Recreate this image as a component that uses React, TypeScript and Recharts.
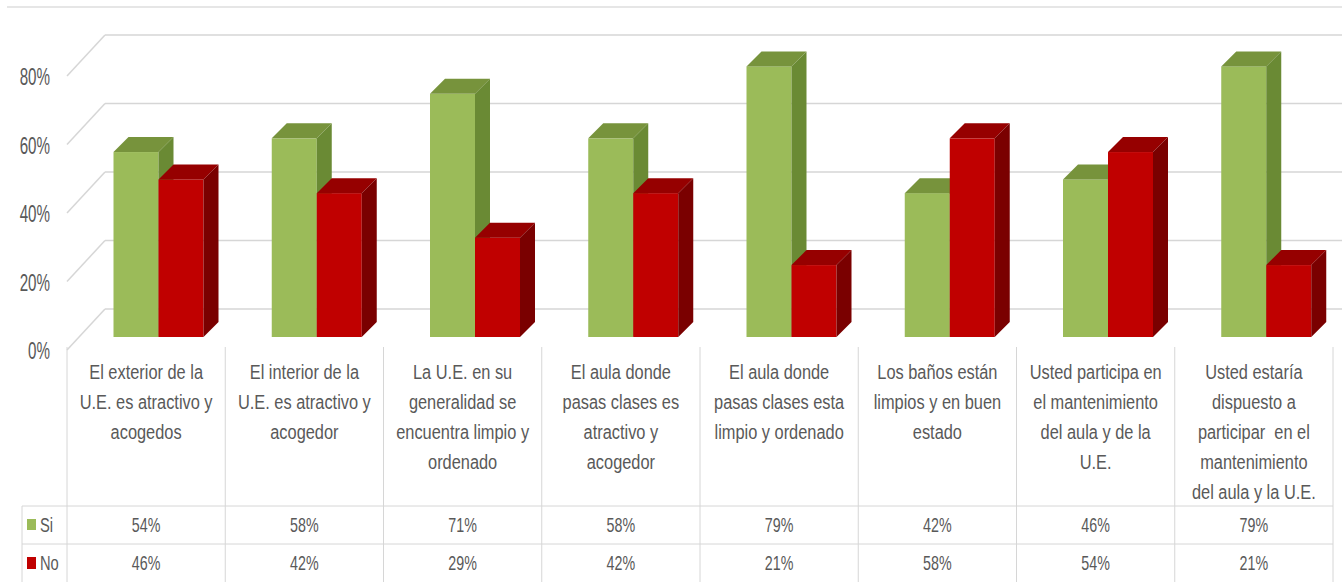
import React from "react";
import { BarChart, Bar, XAxis, YAxis, CartesianGrid } from "recharts";

const categories = [
  "El exterior de la\nU.E. es atractivo y\nacogedos",
  "El interior de la\nU.E. es atractivo y\nacogedor",
  "La U.E. en su\ngeneralidad se\nencuentra limpio y\nordenado",
  "El aula donde\npasas clases es\natractivo y\nacogedor",
  "El aula donde\npasas clases esta\nlimpio y ordenado",
  "Los baños están\nlimpios y en buen\nestado",
  "Usted participa en\nel mantenimiento\ndel aula y de la\nU.E.",
  "Usted estaría\ndispuesto a\nparticipar  en el\nmantenimiento\ndel aula y la U.E.",
];
const siValues = [54, 58, 71, 58, 79, 42, 46, 79];
const noValues = [46, 42, 29, 42, 21, 58, 54, 21];
const yTicks = [0, 20, 40, 60, 80];

const data = categories.map((name, i) => ({ name, si: siValues[i], no: noValues[i] }));

const W = 1350;
const H = 582;
const Y_AXIS_W = 79.5;
const PLOT_W = 1266;
const X_AXIS_H = 245;
const TOP = 63;
const DEPTH = 15;
const BACK_SHIFT = 28; // back wall sits this much higher than the front scale
const TEXT = "#595959";
const FONT = "'Liberation Sans', Arial, sans-serif";
const LINE = "#d6d6d6";

const colors = {
  si: { front: "#9bbb59", top: "#77933c", side: "#6a8a34" },
  no: { front: "#c00000", top: "#960000", side: "#7a0000" },
};

function make3DBar(c: { front: string; top: string; side: string }) {
  return (props: any) => {
    const { x, y, width, height } = props;
    if (!height || height <= 0) return <g />;
    const d = DEPTH;
    return (
      <g>
        <rect x={x} y={y} width={width} height={height} fill={c.front} />
        <polygon
          points={`${x},${y} ${x + d},${y - d} ${x + width + d},${y - d} ${x + width},${y}`}
          fill={c.top}
        />
        <polygon
          points={`${x + width},${y} ${x + width + d},${y - d} ${x + width + d},${y + height - d} ${x + width},${y + height}`}
          fill={c.side}
        />
      </g>
    );
  };
}

// back wall gridline plus the diagonal running to the front-left corner
function gridLine(props: any) {
  const { y1, x1, index } = props;
  const frontX = x1 - 12.5;
  const backX = x1 + 25.5;
  const backY = y1 - BACK_SHIFT;
  return (
    <g key={`g-${index}`}>
      <line x1={frontX} y1={y1 + 13} x2={backX} y2={backY} stroke={LINE} strokeWidth={1.5} />
      <line x1={backX} y1={backY} x2={1342} y2={backY} stroke={LINE} strokeWidth={1.5} />
    </g>
  );
}

function YTick(props: any) {
  const { y, payload } = props;
  return (
    <text
      transform={`translate(50, ${y + 14}) scale(0.66, 1)`}
      textAnchor="end"
      dominantBaseline="central"
      fontSize={23}
      fontFamily={FONT}
      fill={TEXT}
    >
      {payload.value}%
    </text>
  );
}

function TableTick(props: any) {
  const { x, payload, index } = props;
  const colW = PLOT_W / categories.length;
  const cx = x - 12.5;
  const left = cx - colW / 2;
  const right = cx + colW / 2;
  const lines = String(payload.value).split("\n");
  const rowTop = 506;
  const rowMid = 544;
  const txt = (t: string, ty: number, fs: number, sx: number, key: string) => (
    <text
      key={key}
      transform={`translate(${cx}, ${ty}) scale(${sx}, 1)`}
      textAnchor="middle"
      dominantBaseline="central"
      fontSize={fs}
      fontFamily={FONT}
      fill={TEXT}
      style={{ whiteSpace: "pre" }}
    >
      {t}
    </text>
  );
  return (
    <g>
      {index === 0 && (
        <g>
          <line x1={left} y1={347} x2={left} y2={H} stroke={LINE} />
          <line x1={22} y1={rowTop} x2={22} y2={H} stroke={LINE} />
          <line x1={22} y1={rowTop} x2={left} y2={rowTop} stroke={LINE} />
          <line x1={22} y1={rowMid} x2={left} y2={rowMid} stroke={LINE} />
          <rect x={27} y={519} width={9} height={11} fill={colors.si.front} />
          <rect x={27} y={557} width={9} height={12} fill={colors.no.front} />
          <text transform="translate(40, 525) scale(0.7, 1)" dominantBaseline="central" fontSize={21} fontFamily={FONT} fill={TEXT}>
            Si
          </text>
          <text transform="translate(40, 563) scale(0.7, 1)" dominantBaseline="central" fontSize={21} fontFamily={FONT} fill={TEXT}>
            No
          </text>
        </g>
      )}
      <line x1={right} y1={347} x2={right} y2={H} stroke={LINE} />
      <line x1={left} y1={rowTop} x2={right} y2={rowTop} stroke={LINE} />
      <line x1={left} y1={rowMid} x2={right} y2={rowMid} stroke={LINE} />
      {lines.map((l, k) => txt(l, 372 + k * 30, 21, 0.78, `l${k}`))}
      {txt(`${siValues[index]}%`, 525, 21, 0.68, "si")}
      {txt(`${noValues[index]}%`, 563, 21, 0.68, "no")}
    </g>
  );
}

export default function App() {
  return (
    <div
      style={{
        position: "absolute",
        left: 0,
        top: 0,
        width: 1342,
        height: H,
        overflow: "hidden",
        background: "#fff",
      }}
    >
      <div style={{ position: "absolute", left: 7, top: 6, width: 1335, height: 2, background: "#e6e6e6" }} />
      <BarChart
        width={W}
        height={H}
        data={data}
        margin={{ top: TOP, right: W - Y_AXIS_W - PLOT_W, left: 0, bottom: 0 }}
        barGap={0}
        barSize={45}
      >
        <CartesianGrid vertical={false} horizontal={gridLine} />
        <XAxis
          dataKey="name"
          height={X_AXIS_H}
          axisLine={false}
          tickLine={false}
          interval={0}
          tick={<TableTick />}
        />
        <YAxis
          width={Y_AXIS_W}
          domain={[0, 80]}
          ticks={yTicks}
          axisLine={false}
          tickLine={false}
          tick={<YTick />}
        />
        <Bar dataKey="si" shape={make3DBar(colors.si)} isAnimationActive={false} />
        <Bar dataKey="no" shape={make3DBar(colors.no)} isAnimationActive={false} />
      </BarChart>
    </div>
  );
}
